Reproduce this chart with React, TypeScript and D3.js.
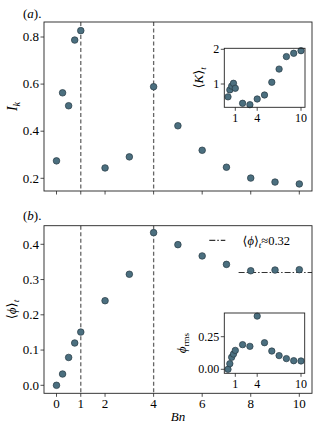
import React from "react";
import * as d3 from "d3";

const bn = [0, 0.25, 0.5, 0.75, 1, 2, 3, 4, 5, 6, 7, 8, 9, 10];
const ik = [0.274, 0.563, 0.508, 0.787, 0.827, 0.244, 0.291, 0.589, 0.423, 0.319, 0.247, 0.201, 0.184, 0.176];
const kappa = [0.63, 0.83, 0.94, 1.02, 0.876, 0.444, 0.404, 0.568, 0.683, 1.05, 1.43, 1.79, 1.885, 1.96];
const phiMean = [0.0, 0.032, 0.079, 0.12, 0.151, 0.24, 0.315, 0.433, 0.399, 0.367, 0.343, 0.325, 0.327, 0.328];
const phiRms = [0.0, 0.043, 0.092, 0.117, 0.145, 0.189, 0.176, 0.408, 0.204, 0.14, 0.105, 0.082, 0.066, 0.064];
const mainXTicks = [0, 1, 2, 4, 6, 8, 10];
const insetXTicks = [1, 4, 10];
const ikTicks = [0.2, 0.4, 0.6, 0.8];
const phiTicks = [0, 0.1, 0.2, 0.3, 0.4];
const kTicks = [1, 2];
const rmsTicks = [0, 0.25];
const vlines = [1, 4];
const phiAvg = 0.32;

const FONT = '"Liberation Serif", "Times New Roman", "DejaVu Serif", serif';
const FILL = "#4b6f7f";
const STROKE = "#263a44";
const AX = "#222";

export default function App() {
  const x = d3.scaleLinear().domain([0, 10]).range([56.5, 299.3]);
  const yA = d3.scaleLinear().domain([0.2, 0.8]).range([178.3, 37]);
  const yB = d3.scaleLinear().domain([0, 0.4]).range([385.3, 244.3]);
  const xi = d3.scaleLinear().domain([0, 10]).range([228, 301]);
  const yIa = d3.scaleLinear().domain([1, 2]).range([84, 49.3]);
  const yIb = d3.scaleLinear().domain([0, 0.25]).range([369.3, 336.7]);

  const boxA = { l: 44, r: 312, t: 22, b: 191 };
  const boxB = { l: 44, r: 312, t: 225.7, b: 393.3 };
  const inA = { l: 224.3, r: 305, t: 48.3, b: 107.3 };
  const inB = { l: 224.3, r: 304.7, t: 313, b: 373.3 };

  const fmt1 = d3.format(".1f");
  const fmt2 = d3.format(".2f");
  const tf = { fontFamily: FONT };

  const box = (b: any) => (
    <rect x={b.l} y={b.t} width={b.r - b.l} height={b.b - b.t} fill="none" stroke={AX} strokeWidth={0.9} />
  );

  const points = (ys: number[], xs: any, ysc: any, r: number) =>
    bn.map((d, i) => (
      <circle key={i} cx={xs(d)} cy={ysc(ys[i])} r={r} fill={FILL} stroke={STROKE} strokeWidth={0.7} />
    ));

  const xTickMarks = (b: any, ticks: number[], xs: any, labels: boolean, fs: number) =>
    ticks.map((t) => (
      <g key={t}>
        <line x1={xs(t)} x2={xs(t)} y1={b.b} y2={b.b + 3.5} stroke={AX} strokeWidth={0.8} />
        {labels && (
          <text x={xs(t)} y={b.b + 4 + fs * 0.85} fontSize={fs} textAnchor="middle" style={tf}>
            {t}
          </text>
        )}
      </g>
    ));

  const yTickMarks = (b: any, ticks: number[], ys: any, f: any, fs: number) =>
    ticks.map((t) => (
      <g key={t}>
        <line x1={b.l - 3.5} x2={b.l} y1={ys(t)} y2={ys(t)} stroke={AX} strokeWidth={0.8} />
        <text x={b.l - 5} y={ys(t) + fs * 0.33} fontSize={fs} textAnchor="end" style={tf}>
          {f(t)}
        </text>
      </g>
    ));

  return (
    <svg width={318} height={432} style={{ position: "absolute", left: 0, top: 0, background: "#fff" }}>
      {/* Panel a */}
      <text x={23} y={18} fontSize={13} style={tf}>
        (<tspan fontStyle="italic">a</tspan>).
      </text>
      {vlines.map((v) => (
        <line key={"va" + v} x1={x(v)} x2={x(v)} y1={boxA.t} y2={boxA.b} stroke="#666" strokeWidth={1.3} strokeDasharray="4,2.5" />
      ))}
      {points(ik, x, yA, 3.3)}
      {box(boxA)}
      {xTickMarks(boxA, mainXTicks, x, false, 13)}
      {yTickMarks(boxA, ikTicks, yA, fmt1, 13)}
      <text transform={`translate(17,${(boxA.t + boxA.b) / 2}) rotate(-90)`} fontSize={14} textAnchor="middle" style={tf} fontStyle="italic">
        I<tspan fontSize={10} dy={3}>k</tspan>
      </text>

      {/* Inset a */}
      <rect x={inA.l} y={inA.t} width={inA.r - inA.l} height={inA.b - inA.t} fill="#fff" />
      {points(kappa, xi, yIa, 3.2)}
      {box(inA)}
      {xTickMarks(inA, insetXTicks, xi, true, 12)}
      {yTickMarks(inA, kTicks, yIa, (t: number) => String(t), 12)}
      <text transform={`translate(203,${(inA.t + inA.b) / 2}) rotate(-90)`} fontSize={13} textAnchor="middle" style={tf}>
        ⟨<tspan fontStyle="italic">K</tspan>⟩<tspan fontSize={9} dy={3} fontStyle="italic">t</tspan>
      </text>

      {/* Panel b */}
      <text x={23} y={220} fontSize={13} style={tf}>
        (<tspan fontStyle="italic">b</tspan>).
      </text>
      {vlines.map((v) => (
        <line key={"vb" + v} x1={x(v)} x2={x(v)} y1={boxB.t} y2={boxB.b} stroke="#666" strokeWidth={1.3} strokeDasharray="4,2.5" />
      ))}
      <line x1={x(7.5)} x2={boxB.r} y1={yB(phiAvg)} y2={yB(phiAvg)} stroke="#333" strokeWidth={1.2} strokeDasharray="6,2,1.5,2" />
      {points(phiMean, x, yB, 3.3)}
      {box(boxB)}
      {xTickMarks(boxB, mainXTicks, x, true, 13)}
      {yTickMarks(boxB, phiTicks, yB, fmt1, 13)}
      <text transform={`translate(16,${(boxB.t + boxB.b) / 2}) rotate(-90)`} fontSize={13} textAnchor="middle" style={tf}>
        ⟨<tspan fontStyle="italic">ϕ</tspan>⟩<tspan fontSize={9} dy={3} fontStyle="italic">t</tspan>
      </text>
      <text x={178} y={421} fontSize={13} textAnchor="middle" style={tf} fontStyle="italic">
        Bn
      </text>
      {/* legend */}
      <line x1={209.3} x2={225.3} y1={240.3} y2={240.3} stroke="#333" strokeWidth={1.2} strokeDasharray="6,2,1.5,2" />
      <text x={242.5} y={244.5} fontSize={12.5} style={tf}>
        ⟨<tspan fontStyle="italic">ϕ</tspan>⟩<tspan fontSize={9} dy={3} fontStyle="italic">t</tspan>
        <tspan dy={-3}>≈0.32</tspan>
      </text>

      {/* Inset b */}
      <rect x={inB.l} y={inB.t} width={inB.r - inB.l} height={inB.b - inB.t} fill="#fff" />
      {points(phiRms, xi, yIb, 3.2)}
      {box(inB)}
      {xTickMarks(inB, insetXTicks, xi, true, 12)}
      {yTickMarks(inB, rmsTicks, yIb, fmt2, 12)}
      <text transform={`translate(186,${(inB.t + inB.b) / 2}) rotate(-90)`} fontSize={13} textAnchor="middle" style={tf}>
        <tspan fontStyle="italic">ϕ</tspan><tspan fontSize={9} dy={3}>rms</tspan>
      </text>
    </svg>
  );
}
